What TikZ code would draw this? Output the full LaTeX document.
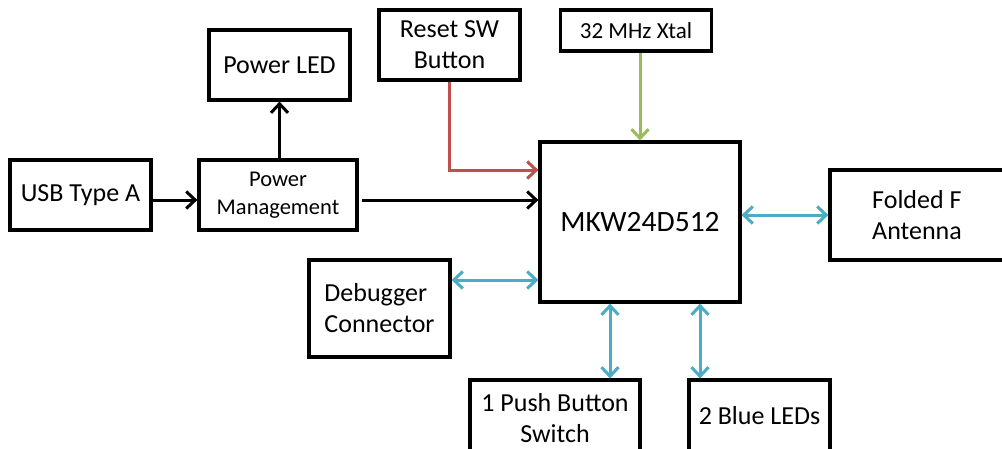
\documentclass[tikz,border=0pt]{standalone}
\usepackage{fontspec}
\setmainfont{Carlito}
\usetikzlibrary{arrows.meta}
\definecolor{rstred}{RGB}{192,80,77}
\definecolor{xtalgreen}{RGB}{155,187,89}
\definecolor{busblue}{RGB}{75,172,198}
\begin{document}
\begin{tikzpicture}[x=1pt, y=-1pt,
		block/.style={draw, line width=3.2pt, rectangle, inner sep=0pt, align=center,
			font=\fontsize{26}{31}\selectfont},
		tip/.style={-{Straight Barb[length=9pt,width=17pt]}},
		sig/.style={tip, line width=3pt},
		bus/.style={{Straight Barb[length=9pt,width=17pt]}-{Straight Barb[length=9pt,width=17pt]}, line width=3pt, busblue}]
			\useasboundingbox (0,0) rectangle (1002,448);
			\clip (0,0) rectangle (1002,448);

			\node (usb)[block, minimum width=141pt, minimum height=70pt] at (80.5, 195) {USB Type A};
			\node (pm)[block, minimum width=158pt, minimum height=70pt, font=\fontsize{22.5}{28}\selectfont] at (278, 195) {Power\\Management};
			\node (pled)[block, minimum width=141pt, minimum height=70pt] at (279.5, 65) {Power LED};
			\node (reset)[block, minimum width=141pt, minimum height=70pt] at (449.5, 45) {Reset SW\\Button};
			\node (xtal)[block, minimum width=151pt, minimum height=41pt, font=\fontsize{23}{28}\selectfont] at (636, 30.5) {32 MHz Xtal};
			\node (mkw)[block, minimum width=200pt, minimum height=160pt, font=\fontsize{29.5}{34}\selectfont] at (640, 222) {MKW24D512};
			\node (ant)[block, minimum width=174pt, minimum height=90pt, align=left] at (917, 215) {Folded F\\Antenna};
			\node (dbg)[block, minimum width=141pt, minimum height=97pt, align=left] at (379.5, 308.5) {Debugger\\Connector};
			\node (push)[block, minimum width=170pt, minimum height=76pt] at (555, 418) {1 Push Button\\Switch};
			\node (leds)[block, minimum width=141pt, minimum height=72pt] at (759.5, 416) {2 Blue LEDs};

			% rows and columns of the connectors
			\coordinate (pwrrow) at (0, 200);
			\coordinate (rstrow) at (0, 170);
			\coordinate (dbgrow) at (0, 280);
			\coordinate (btncol) at (610, 0);
			\coordinate (ledcol) at (700, 0);

			\draw[sig] (usb.east |- pwrrow) -- (pm.west |- pwrrow);
			\draw[sig] (pled.south |- pm.north) -- (pled.south);
			\draw[sig] ([xshift=3pt]pm.east |- pwrrow) -- (mkw.west |- pwrrow);
			\draw[sig, rstred] (reset.south) |- (mkw.west |- rstrow);
			\draw[sig, xtalgreen] (mkw.north |- xtal.south) -- (mkw.north);

			\draw[bus] (mkw.east |- ant.west) -- (ant.west);
			\draw[bus] (dbg.east |- dbgrow) -- (mkw.west |- dbgrow);
			\draw[bus] (mkw.south -| btncol) -- (push.north -| btncol);
			\draw[bus] (mkw.south -| ledcol) -- (leds.north -| ledcol);
		\end{tikzpicture}
\end{document}
